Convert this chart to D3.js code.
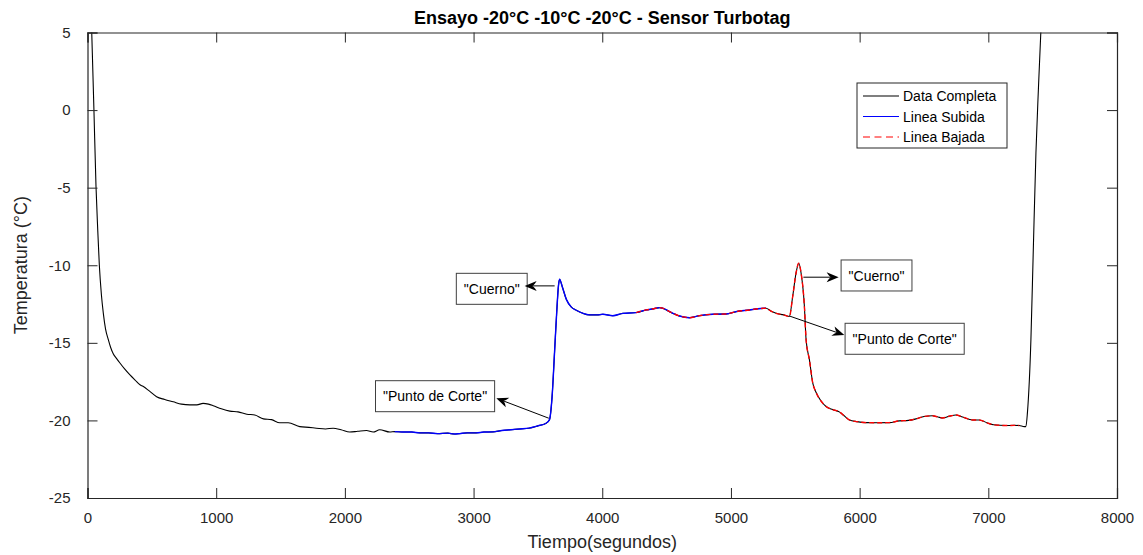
<!DOCTYPE html>
<meta charset="utf-8">
<script src="https://cdn.jsdelivr.net/npm/d3@7"></script>
<style>
body { margin: 0; background: #fff; font-family: "Liberation Sans", Arial, Helvetica, sans-serif; }
.axis text { font-size: 15px; fill: #262626; }
.axis path, .axis line { stroke: #262626; }
.label { font-size: 18px; fill: #262626; }
.title { font-size: 18px; font-weight: bold; fill: #000; }
.legend text, .note text { font-size: 14px; fill: #000; }
</style>
<body>
<script>

// Datos: tiempo (s) y temperatura (°C)
var tiempo = [0, 20, 33, 50, 66, 80, 92, 108, 123, 140, 162, 180, 200, 225, 252, 290, 330, 370, 408, 431,
  480, 537, 600, 666, 730, 796, 850, 898, 940, 977, 1040, 1106, 1170, 1238, 1300, 1367, 1430, 1494, 1560, 1650,
  1720, 1779, 1850, 1909, 1970, 2038, 2100, 2168, 2220, 2271, 2349, 2387, 2450, 2520, 2582, 2650, 2720, 2800, 2850, 2892,
  2950, 3020, 3080, 3150, 3220, 3290, 3358, 3430, 3500, 3560, 3590, 3610, 3630, 3645, 3660, 3668, 3690, 3721, 3760, 3798,
  3850, 3901, 3960, 4005, 4082, 4160, 4264, 4341, 4400, 4445, 4480, 4523, 4600, 4678, 4755, 4859, 4962, 5040, 5144, 5210,
  5273, 5310, 5351, 5410, 5454, 5480, 5506, 5527, 5545, 5571, 5584, 5610, 5636, 5662, 5700, 5739, 5790, 5842, 5880, 5920,
  5980, 6050, 6140, 6230, 6308, 6380, 6438, 6500, 6566, 6610, 6644, 6700, 6748, 6800, 6877, 6930, 6992, 7040, 7137, 7200,
  7240, 7279, 7292, 7304, 7331, 7349, 7370, 7390, 7408, 7430];
var temperatura = [14, 8.8, 5, 0, -4.9, -7.8, -10, -11.9, -13.1, -14.1, -14.8, -15.3, -15.7, -16.0, -16.3, -16.7, -17.07, -17.4, -17.7, -17.8,
  -18.1, -18.47, -18.65, -18.8, -18.95, -19.0, -19.0, -18.9, -18.95, -19.05, -19.25, -19.4, -19.45, -19.6, -19.65, -19.9, -19.95, -20.15, -20.15, -20.4,
  -20.45, -20.5, -20.55, -20.5, -20.6, -20.75, -20.7, -20.65, -20.75, -20.6, -20.75, -20.72, -20.75, -20.75, -20.8, -20.8, -20.85, -20.82, -20.88, -20.85,
  -20.8, -20.8, -20.75, -20.74, -20.65, -20.6, -20.55, -20.5, -20.35, -20.2, -19.95, -18.5, -15.5, -13.2, -11.3, -10.9, -11.4, -12.2, -12.7, -12.9,
  -13.1, -13.2, -13.2, -13.16, -13.25, -13.1, -13.05, -12.88, -12.8, -12.73, -12.8, -12.99, -13.27, -13.38, -13.25, -13.16, -13.14, -12.99, -12.88, -12.8,
  -12.77, -12.95, -13.1, -13.2, -13.3, -12.0, -10.5, -9.87, -10.5, -12.67, -14.8, -16.1, -17.6, -18.2, -18.75, -19.1, -19.3, -19.45, -19.7, -19.97,
  -20.08, -20.14, -20.15, -20.14, -20.03, -20.0, -19.9, -19.75, -19.7, -19.78, -19.84, -19.72, -19.65, -19.78, -19.97, -19.97, -20.16, -20.28, -20.33, -20.32,
  -20.33, -20.4, -20.4, -19.5, -14.8, -9.2, -2.76, 1.5, 5, 8];

// tramos (en segundos) de la linea subida y bajada
var subida = [2387, 5300];
var bajada = [4264, 7260];

var xTicks = [0, 1000, 2000, 3000, 4000, 5000, 6000, 7000, 8000];
var yTicks = [5, 0, -5, -10, -15, -20, -25];

var leyenda = ["Data Completa", "Linea Subida", "Linea Bajada"];

// anotaciones: caja (t, temp esquina sup. izq.), flecha desde -> hasta
var notas = [
  {texto: '"Cuerno"',         caja: [2866, -10.52], desde: [3630, -11.33], hasta: [3397, -11.33]},
  {texto: '"Punto de Corte"', caja: [2238, -17.44], desde: [3585, -19.86], hasta: [3177, -18.57]},
  {texto: '"Cuerno"',         caja: [5856, -9.66],  desde: [5563, -10.77], hasta: [5837, -10.77]},
  {texto: '"Punto de Corte"', caja: [5887, -13.74], desde: [5454, -13.27], hasta: [5881, -14.5]}
];

var w = 1143, h = 555,
    margin = {top: 32.5, right: 26, bottom: 57, left: 87.5};

var svg = d3.select("body").append("svg")
    .attr("width", w)
    .attr("height", h);

var x = d3.scaleLinear().domain([0, 8000]).range([margin.left, w - margin.right]);
var y = d3.scaleLinear().domain([-25, 5]).range([h - margin.bottom, margin.top]);

var datos = tiempo.map(function(t, i) { return {t: t, v: temperatura[i]}; });

svg.append("clipPath").attr("id", "clip")
  .append("rect")
    .attr("x", x(0)).attr("y", y(5))
    .attr("width", x(8000) - x(0)).attr("height", y(-25) - y(5));

var linea = d3.line()
    .curve(d3.curveMonotoneX)
    .x(function(d) { return x(d.t); })
    .y(function(d) { return y(d.v); });

var g = svg.append("g").attr("clip-path", "url(#clip)");

g.append("path").datum(datos)
    .attr("d", linea)
    .attr("fill", "none").attr("stroke", "#000").attr("stroke-width", 1.1);

g.append("path").datum(datos.filter(function(d) { return d.t >= subida[0] && d.t <= subida[1]; }))
    .attr("d", linea)
    .attr("fill", "none").attr("stroke", "#0000ff").attr("stroke-width", 1.4);

g.append("path").datum(datos.filter(function(d) { return d.t >= bajada[0] && d.t <= bajada[1]; }))
    .attr("d", linea)
    .attr("fill", "none").attr("stroke", "#ff0000").attr("stroke-width", 1.4)
    .attr("stroke-dasharray", "5,3");

var fmt = function(d) { return String(d); };

// ejes con marcas hacia dentro, caja completa
svg.append("g").attr("class", "axis")
    .attr("transform", "translate(0," + y(-25) + ")")
    .call(d3.axisBottom(x).tickValues(xTicks).tickSize(-10).tickPadding(14).tickFormat(fmt));
svg.append("g").attr("class", "axis")
    .attr("transform", "translate(0," + y(5) + ")")
    .call(d3.axisTop(x).tickValues(xTicks).tickSize(-10).tickFormat(""));
svg.append("g").attr("class", "axis")
    .attr("transform", "translate(" + x(0) + ",0)")
    .call(d3.axisLeft(y).tickValues(yTicks).tickSize(-10).tickPadding(17).tickFormat(fmt));
svg.append("g").attr("class", "axis")
    .attr("transform", "translate(" + x(8000) + ",0)")
    .call(d3.axisRight(y).tickValues(yTicks).tickSize(-10).tickFormat(""));

svg.selectAll(".axis .domain").attr("stroke-width", 1.2);
svg.selectAll(".axis").attr("font-family", null).attr("font-size", null);

// titulos
svg.append("text").attr("class", "title")
    .attr("x", (x(0) + x(8000)) / 2).attr("y", 24)
    .attr("text-anchor", "middle")
    .text("Ensayo -20°C -10°C -20°C - Sensor Turbotag");
svg.append("text").attr("class", "label")
    .attr("x", (x(0) + x(8000)) / 2).attr("y", 548)
    .attr("text-anchor", "middle")
    .text("Tiempo(segundos)");
svg.append("text").attr("class", "label")
    .attr("transform", "translate(27," + (y(5) + y(-25)) / 2 + ") rotate(-90)")
    .attr("text-anchor", "middle")
    .text("Temperatura (°C)");

// leyenda
var leg = svg.append("g").attr("class", "legend").attr("transform", "translate(857,83)");
leg.append("rect").attr("width", 150).attr("height", 65)
    .attr("fill", "#fff").attr("stroke", "#262626").attr("stroke-width", 1);
var estilos = [{c: "#000", d: null}, {c: "#0000ff", d: null}, {c: "#ff0000", d: "7,4.5"}];
leyenda.forEach(function(s, i) {
  var yy = 13 + i * 20.5;
  leg.append("line").attr("x1", 6).attr("x2", 42).attr("y1", yy).attr("y2", yy)
      .attr("stroke", estilos[i].c).attr("stroke-width", 1.2)
      .attr("stroke-dasharray", estilos[i].d);
  leg.append("text").attr("x", 46).attr("y", yy).attr("dy", "0.36em").text(s);
});

// anotaciones con flechas
notas.forEach(function(n) {
  var gn = svg.append("g").attr("class", "note");
  var bx = x(n.caja[0]), by = y(n.caja[1]);
  var txt = gn.append("text").text(n.texto);
  var tw = txt.node().getComputedTextLength();
  var bw = tw + 15, bh = 31;
  gn.insert("rect", "text")
      .attr("x", bx).attr("y", by).attr("width", bw).attr("height", bh)
      .attr("fill", "#fff").attr("stroke", "#404040").attr("stroke-width", 1);
  txt.attr("x", bx + bw / 2).attr("y", by + bh / 2).attr("dy", "0.36em").attr("text-anchor", "middle");

  var x1 = x(n.desde[0]), y1 = y(n.desde[1]), x2 = x(n.hasta[0]), y2 = y(n.hasta[1]);
  var dx = x2 - x1, dy = y2 - y1, len = Math.sqrt(dx * dx + dy * dy);
  var ux = dx / len, uy = dy / len, nx = -uy, ny = ux;
  var L = 12, W = 10;
  var bxL = x2 - L * ux + W / 2 * nx, byL = y2 - L * uy + W / 2 * ny;
  var bxR = x2 - L * ux - W / 2 * nx, byR = y2 - L * uy - W / 2 * ny;
  var mx = x2 - 0.6 * L * ux, my = y2 - 0.6 * L * uy;
  gn.append("line").attr("x1", x1).attr("y1", y1).attr("x2", mx).attr("y2", my)
      .attr("stroke", "#000").attr("stroke-width", 1);
  gn.append("path")
      .attr("d", "M" + x2 + "," + y2 + "L" + bxL + "," + byL +
                 "Q" + (x2 - 0.75 * L * ux) + "," + (y2 - 0.75 * L * uy) + " " + mx + "," + my +
                 "Q" + (x2 - 0.75 * L * ux) + "," + (y2 - 0.75 * L * uy) + " " + bxR + "," + byR + "Z")
      .attr("fill", "#000");
});

</script>
</body>
</html>
